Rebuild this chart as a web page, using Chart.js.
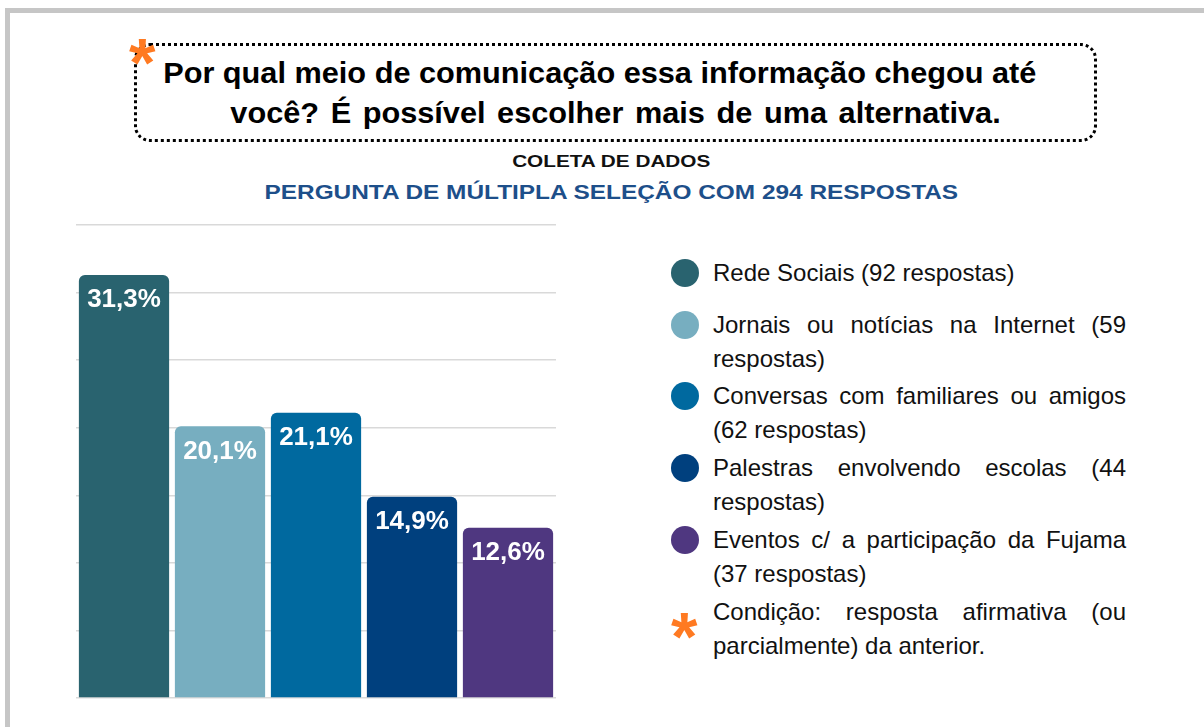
<!DOCTYPE html>
<html>
<head>
<meta charset="utf-8">
<script src="https://cdn.jsdelivr.net/npm/chart.js@4/dist/chart.umd.min.js"></script>
<style>
  html, body { margin: 0; padding: 0; background: #fff; }
  body { width: 1204px; height: 727px; position: relative; overflow: hidden; font-family: "Liberation Sans", Arial, sans-serif; }
  .frame { position: absolute; left: 5px; top: 8px; width: 1300px; height: 800px; border: 5px solid #c6c6c6; box-sizing: border-box; }
  .qbox { position: absolute; left: 134px; top: 43px; width: 963px; height: 99px; border: 3px dotted #000; border-radius: 16px; box-sizing: border-box; background: #fff; }
  .qline { position: absolute; left: 0; right: 0; text-align: center; font-weight: bold; font-size: 30px; line-height: 40px; color: #000; white-space: nowrap; }
  .qline span { display: inline-block; transform: scaleX(1.023); }
  .star { position: absolute; color: #ff7a22; font-weight: bold; font-size: 68px; line-height: 1; }
  .sub { position: absolute; left: 0; width: 1222px; text-align: center; font-weight: bold; white-space: nowrap; }
  .sub span { display: inline-block; transform: scaleX(1.22); }
  #wrap { position: absolute; left: 76px; top: 222px; width: 480px; height: 479px; }
  .leg { position: absolute; left: 713px; width: 413px; font-size: 24px; line-height: 34px; text-align: justify; color: #111; }
  .dot { position: absolute; left: 671px; width: 28px; height: 28px; border-radius: 50%; }
</style>
</head>
<body>
<div class="frame"></div>
<div class="qbox">
  <div class="qline" style="top:7px; left:-32px;"><span>Por qual meio de comunicação essa informação chegou até</span></div>
  <div class="qline" style="top:47px; word-spacing:3px;"><span>você? É possível escolher mais de uma alternativa.</span></div>
</div>
<div class="star" style="left:129px; top:28px;">*</div>
<div class="sub" style="top:152px; font-size:17px; color:#111;"><span>COLETA DE DADOS</span></div>
<div class="sub" style="top:181px; font-size:20px; color:#1d4f8a;"><span>PERGUNTA DE MÚLTIPLA SELEÇÃO COM 294 RESPOSTAS</span></div>
<div id="wrap"><canvas id="chart"></canvas></div>
<div id="legend"></div>
<div class="star" style="left:671px; top:602px;">*</div>
<div class="leg" style="top:595px;">Condição: resposta afirmativa (ou parcialmente) da anterior.</div>
<script>
const categories = [
  'Rede Sociais (92 respostas)',
  'Jornais ou notícias na Internet (59 respostas)',
  'Conversas com familiares ou amigos (62 respostas)',
  'Palestras envolvendo escolas (44 respostas)',
  'Eventos c/ a participação da Fujama (37 respostas)',
];
const percents = [31.3, 20.1, 21.1, 14.9, 12.6];
const colors = ['#29636f', '#77aec0', '#00699f', '#00407e', '#4f3780'];
const legendTops = [256, 308, 379, 451, 523];

const legendEl = document.getElementById('legend');
categories.forEach((c, i) => {
  const dot = document.createElement('div');
  dot.className = 'dot';
  dot.style.top = (legendTops[i] + 3) + 'px';
  dot.style.background = colors[i];
  legendEl.appendChild(dot);
  const t = document.createElement('div');
  t.className = 'leg';
  t.style.top = legendTops[i] + 'px';
  t.textContent = c;
  legendEl.appendChild(t);
});

// percentage labels inside the top of each bar
const barLabels = {
  id: 'barLabels',
  afterDatasetsDraw(chart) {
    const ctx = chart.ctx;
    const meta = chart.getDatasetMeta(0);
    ctx.save();
    ctx.fillStyle = '#fff';
    ctx.font = 'bold 26px "Liberation Sans", Arial, sans-serif';
    ctx.textAlign = 'center';
    ctx.textBaseline = 'middle';
    meta.data.forEach((bar, i) => {
      ctx.fillText(percents[i].toFixed(1).replace('.', ',') + '%', bar.x, bar.y + 25);
    });
    ctx.restore();
  },
};

new Chart(document.getElementById('chart'), {
  type: 'bar',
  data: {
    labels: categories,
    datasets: [{
      data: percents,
      backgroundColor: colors,
      borderRadius: { topLeft: 6, topRight: 6 },
      borderSkipped: 'bottom',
      barPercentage: 0.94,
      categoryPercentage: 1,
    }],
  },
  options: {
    responsive: true,
    maintainAspectRatio: false,
    animation: false,
    layout: { padding: { top: 3, bottom: 3, left: 0, right: 0 } },
    plugins: { legend: { display: false }, tooltip: { enabled: false } },
    scales: {
      x: { display: false },
      y: {
        min: 0, max: 35,
        ticks: { display: false, stepSize: 5 },
        grid: { color: '#d9d9d9', lineWidth: 1.5, drawTicks: false },
        border: { display: false },
      },
    },
  },
  plugins: [barLabels],
});
</script>
</body>
</html>
